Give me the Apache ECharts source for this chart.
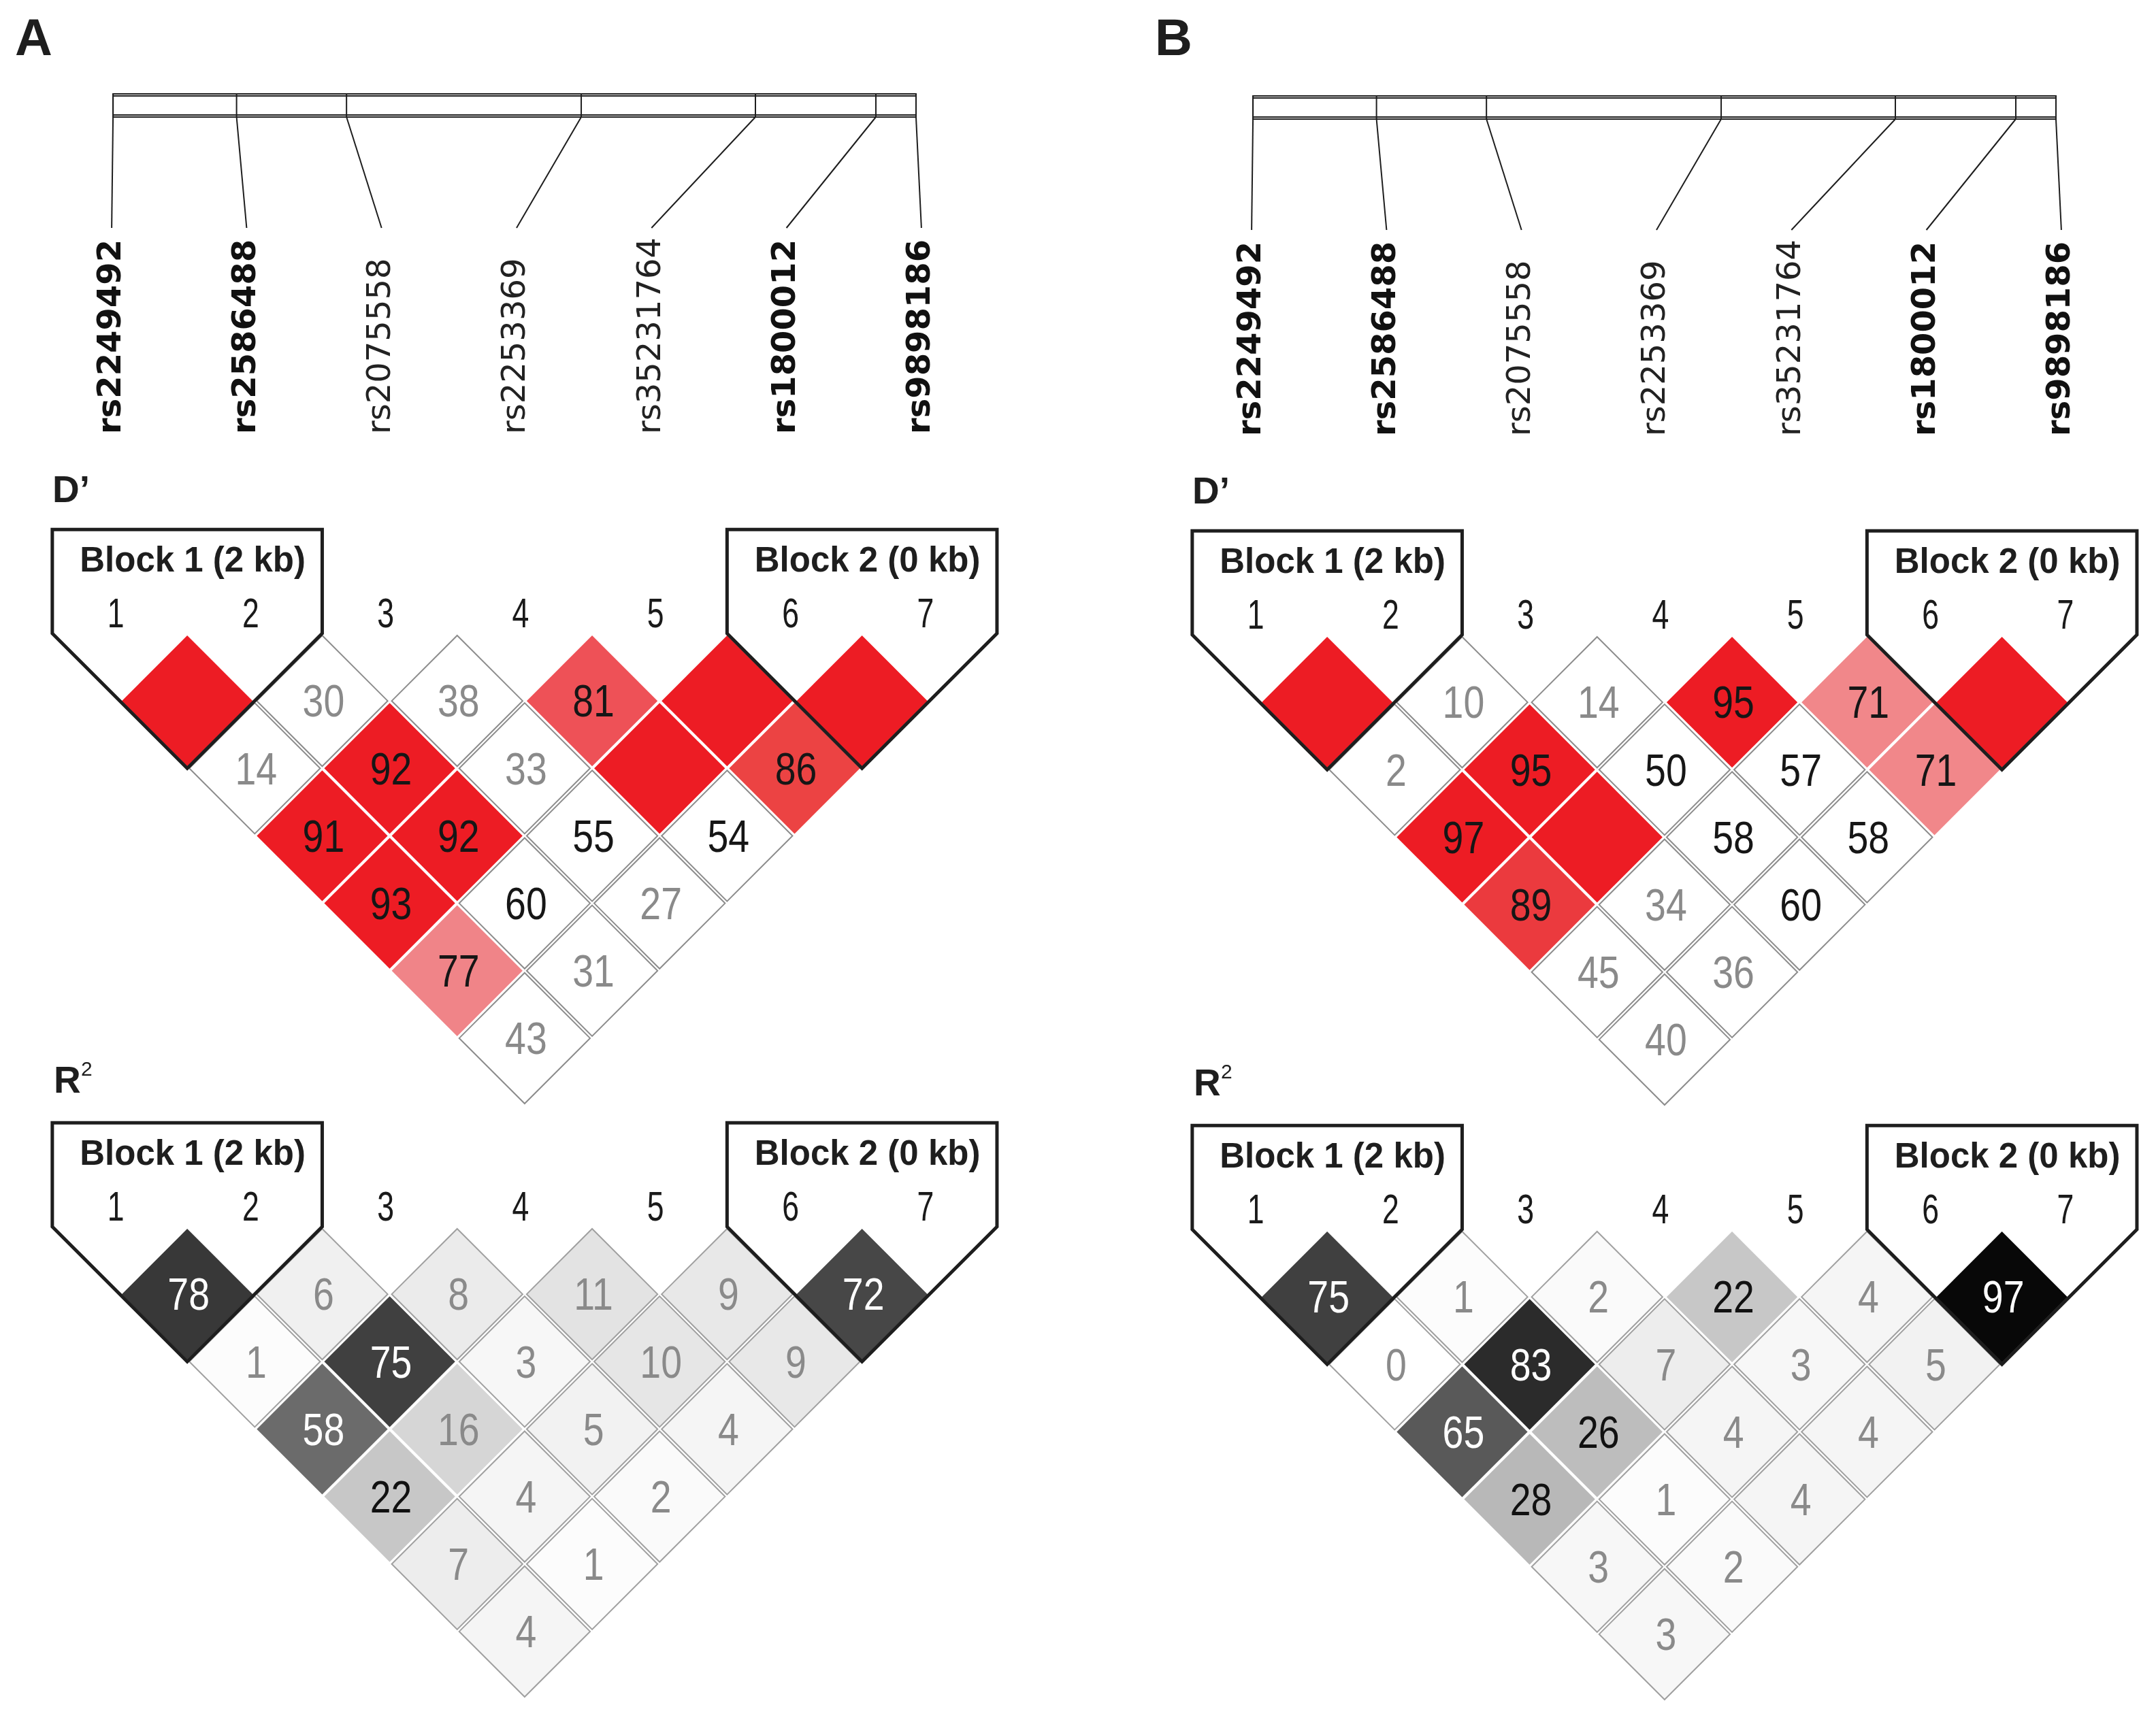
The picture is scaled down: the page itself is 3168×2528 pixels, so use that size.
<!DOCTYPE html>
<html><head><meta charset="utf-8">
<script src="https://cdn.jsdelivr.net/npm/echarts@6/dist/echarts.min.js"></script>
<style>html,body{margin:0;padding:0;background:#fff}#c{width:3168px;height:2528px}</style>
</head><body><div id="c"></div>
<script>
// ---------------- data ----------------
const markerIds = [1, 2, 3, 4, 5, 6, 7];
const snpNames = ['rs2249492', 'rs2586488', 'rs2075558', 'rs2253369', 'rs35231764', 'rs1800012', 'rs9898186'];
const snpPosKb = [0, 2.00, 3.78, 7.58, 10.40, 12.35, 13.00];
const blocks = [[1, 2, 'Block 1 (2 kb)'], [6, 7, 'Block 2 (0 kb)']];
// rows by marker distance d = 1..6; element m of row d is pair (m+1, m+1+d); 100 = D' of 1 (no number shown)
const dPrimeA = [[100, 30, 38, 81, 100, 100], [14, 92, 33, 100, 86], [91, 92, 55, 54], [93, 60, 27], [77, 31], [43]];
const r2A     = [[78, 6, 8, 11, 9, 72], [1, 75, 3, 10, 9], [58, 16, 5, 4], [22, 4, 2], [7, 1], [4]];
const dPrimeB = [[100, 10, 14, 95, 71, 100], [2, 95, 50, 57, 71], [97, 100, 58, 58], [89, 34, 60], [45, 36], [40]];
const r2B     = [[75, 1, 2, 22, 4, 97], [0, 83, 7, 3, 5], [65, 26, 4, 4], [28, 1, 4], [3, 2], [3]];
const panelLetters = ['A', 'B'];

// ---------------- layout / style ----------------
const S = 198.3;                     // px per marker unit
const panels = [
  { x0: 176,  mapTop: 138, dpY0: 931, r2Y0: 1803, dp: dPrimeA, r2: r2A, dx: 0 },
  { x0: 1851, mapTop: 141, dpY0: 933, r2Y0: 1807, dp: dPrimeB, r2: r2B, dx: 1675 }
];
const mapStart = 0.95, mapEnd = 6.90;   // bar extent in marker units
const labelShift = -0.06;
const dpStops = [[65, [241, 137, 140]], [78, [240, 132, 136]], [81, [238, 81, 87]], [86, [236, 67, 67]], [89, [235, 58, 62]], [90, [237, 28, 36]], [100, [237, 28, 36]]];
const NUM_FONT = '"Liberation Sans", Arial, sans-serif';

function rgb(a) { return 'rgb(' + a.join(',') + ')'; }
function lerpColor(stops, v) {
  if (v <= stops[0][0]) return rgb(stops[0][1]);
  for (let k = 1; k < stops.length; k++) {
    if (v <= stops[k][0]) {
      const a = stops[k - 1], b = stops[k], t = (v - a[0]) / (b[0] - a[0]);
      return rgb(a[1].map((c, q) => Math.round(c + (b[1][q] - c) * t)));
    }
  }
  return rgb(stops[stops.length - 1][1]);
}
function dpFill(v) { return v < 65 ? '#ffffff' : lerpColor(dpStops, v); }
function dpText(v) { return v >= 50 ? '#161616' : '#8a8a8a'; }
function r2Fill(v) { const g = Math.round(255 * (1 - v / 100)); return rgb([g, g, g]); }
function r2Text(v) { return v >= 50 ? '#ffffff' : (v >= 20 ? '#111111' : '#8a8a8a'); }

function toPairs(rows) {
  const out = [];
  rows.forEach((row, r) => row.forEach((v, m) => out.push([m + 1, m + 2 + r, v])));
  return out;
}
function txt(x, y, text, o) {
  return {
    type: 'text', x: x, y: y, rotation: o.rotation || 0, scaleX: o.scaleX || 1,
    style: {
      text: text, fontSize: o.size, fontFamily: o.family || NUM_FONT, fontWeight: o.weight || 'normal',
      fill: o.fill || '#1a1a1a', align: o.align || 'center', textAlign: o.align || 'center',
      verticalAlign: 'middle', textVerticalAlign: 'middle'
    }
  };
}

function diamondRender(kind) {
  return function (params, api) {
    const i = api.value(0), j = api.value(1), v = api.value(2);
    const c = api.coord([(i + j) / 2, (j - i) / 2]);
    const h = Math.abs(api.size([1, 1])[0]) / 2 - 3;
    let fill, stroke, tcol, show = true;
    if (kind === 'dp') { fill = dpFill(v); stroke = v < 65 ? '#8c8c8c' : null; tcol = dpText(v); show = v < 100; }
    else { fill = r2Fill(v); stroke = v < 15 ? '#a0a0a0' : null; tcol = r2Text(v); }
    const ch = [{
      type: 'polygon',
      shape: { points: [[c[0], c[1] - h], [c[0] + h, c[1]], [c[0], c[1] + h], [c[0] - h, c[1]]] },
      style: { fill: fill, stroke: stroke, lineWidth: 2 }
    }];
    if (show) ch.push(txt(c[0] + 2, c[1] + 5, String(v), { size: 66, fill: tcol, scaleX: 0.84 }));
    return { type: 'group', children: ch };
  };
}
function blockRender(params, api) {
  const a = api.value(0), b = api.value(1);
  const P = (x, y) => api.coord([x, y]);
  const pts = [P(a - 0.5, -0.77), P(b + 0.5, -0.77), P(b + 0.5, 0), P((a + b) / 2, (b - a + 1) / 2), P(a - 0.5, 0)];
  const lc = P((a + b) / 2 + 0.04, -0.53);
  return {
    type: 'group', children: [
      { type: 'polygon', shape: { points: pts }, style: { fill: null, stroke: '#1e1e1e', lineWidth: 5, lineJoin: 'miter' } },
      txt(lc[0], lc[1], blocks[params.dataIndex][2], { size: 51, weight: 'bold', fill: '#1e1e1e' })
    ]
  };
}
function numberRender(params, api) {
  const m = api.value(0);
  const c = api.coord([m - 0.03, -0.13]);
  return txt(c[0], c[1], String(m), { size: 62, scaleX: 0.72, fill: '#1a1a1a' });
}
function uOf(pos) {
  return mapStart + (pos - snpPosKb[0]) / (snpPosKb[snpPosKb.length - 1] - snpPosKb[0]) * (mapEnd - mapStart);
}
function inBlock(m) { return blocks.some(b => m >= b[0] && m <= b[1]); }
function barRender(params, api) {
  const p0 = api.value(0), p1 = api.value(1);
  const L = api.coord([uOf(p0), 0]), R = api.coord([uOf(p1), 34]);
  const line = (y) => ({ type: 'line', shape: { x1: L[0], y1: api.coord([0, y])[1], x2: R[0], y2: api.coord([0, y])[1] }, style: { stroke: '#1e1e1e', lineWidth: 2 } });
  return {
    type: 'group', children: [
      { type: 'rect', shape: { x: L[0], y: L[1], width: R[0] - L[0], height: R[1] - L[1] }, style: { fill: '#fff', stroke: '#1e1e1e', lineWidth: 2 } },
      line(3), line(31)
    ]
  };
}
function snpRender(params, api) {
  const m = api.value(0), pos = api.value(1);
  const u = uOf(pos);
  const t0 = api.coord([u, 0]), t1 = api.coord([u, 34]);
  const e = api.coord([m + labelShift, 197]);
  const lb = api.coord([m + labelShift, 500]);
  const bold = inBlock(m);
  return {
    type: 'group', children: [
      { type: 'line', shape: { x1: t0[0], y1: t0[1], x2: t1[0], y2: t1[1] }, style: { stroke: '#1e1e1e', lineWidth: 2 } },
      { type: 'line', shape: { x1: t1[0], y1: t1[1], x2: e[0], y2: e[1] }, style: { stroke: '#1e1e1e', lineWidth: 2 } },
      txt(lb[0], lb[1], snpNames[m - 1], { size: 48, family: '"DejaVu Sans", sans-serif', weight: bold ? 'bold' : 'normal', fill: bold ? '#111' : '#222', align: 'left', rotation: Math.PI / 2 })
    ]
  };
}

// ---------------- build option ----------------
const grid = [], xAxis = [], yAxis = [], series = [], graphic = [];
panels.forEach((p, k) => {
  const left = p.x0 - 0.5 * S, width = 7 * S;
  const gMap = grid.length;
  grid.push({ left: left, top: p.mapTop, width: width, height: 500 });
  xAxis.push({ type: 'value', gridIndex: gMap, min: 0.5, max: 7.5, show: false });
  yAxis.push({ type: 'value', gridIndex: gMap, min: 0, max: 500, inverse: true, show: false });
  const base = { type: 'custom', coordinateSystem: 'cartesian2d', xAxisIndex: gMap, yAxisIndex: gMap, silent: true, animation: false, clip: false };
  series.push(Object.assign({}, base, { renderItem: barRender, data: [[snpPosKb[0], snpPosKb[snpPosKb.length - 1]]], z: 2 }));
  series.push(Object.assign({}, base, { renderItem: snpRender, data: markerIds.map((m, q) => [m, snpPosKb[q]]), z: 3 }));

  [['dp', p.dpY0, p.dp], ['r2', p.r2Y0, p.r2]].forEach(([kind, y0, rows]) => {
    const g = grid.length;
    grid.push({ left: left, top: y0 - S, width: width, height: 4.6 * S });
    xAxis.push({ type: 'value', gridIndex: g, min: 0.5, max: 7.5, show: false });
    yAxis.push({ type: 'value', gridIndex: g, min: -1, max: 3.6, inverse: true, show: false });
    const b = { type: 'custom', coordinateSystem: 'cartesian2d', xAxisIndex: g, yAxisIndex: g, silent: true, animation: false, clip: false };
    series.push(Object.assign({}, b, { renderItem: diamondRender(kind), data: toPairs(rows), z: 2 }));
    series.push(Object.assign({}, b, { renderItem: blockRender, data: blocks.map(bl => [bl[0], bl[1]]), z: 4 }));
    series.push(Object.assign({}, b, { renderItem: numberRender, data: markerIds.map(m => [m, 0]), z: 4 }));
  });

  const gx = p.dx;
  graphic.push({ type: 'text', left: 22 + gx, top: 22, style: { text: panelLetters[k], font: 'bold 76px "Liberation Sans", Arial', fill: '#1e1e1e' } });
  graphic.push({ type: 'text', left: 77 + gx, top: p.dpY0 - 236, style: { text: 'D\u2019', font: 'bold 55px "Liberation Sans", Arial', fill: '#1e1e1e' } });
  graphic.push({ type: 'text', left: 79 + gx, top: p.r2Y0 - 240, style: { text: 'R', font: 'bold 55px "Liberation Sans", Arial', fill: '#1e1e1e' } });
  graphic.push({ type: 'text', left: 119 + gx, top: p.r2Y0 - 245, style: { text: '2', font: '30px "Liberation Sans", Arial', fill: '#1e1e1e' } });
});

const chart = echarts.init(document.getElementById('c'), null, { renderer: 'canvas' });
chart.setOption({ backgroundColor: '#ffffff', animation: false, grid, xAxis, yAxis, series, graphic });
</script>
</body></html>
